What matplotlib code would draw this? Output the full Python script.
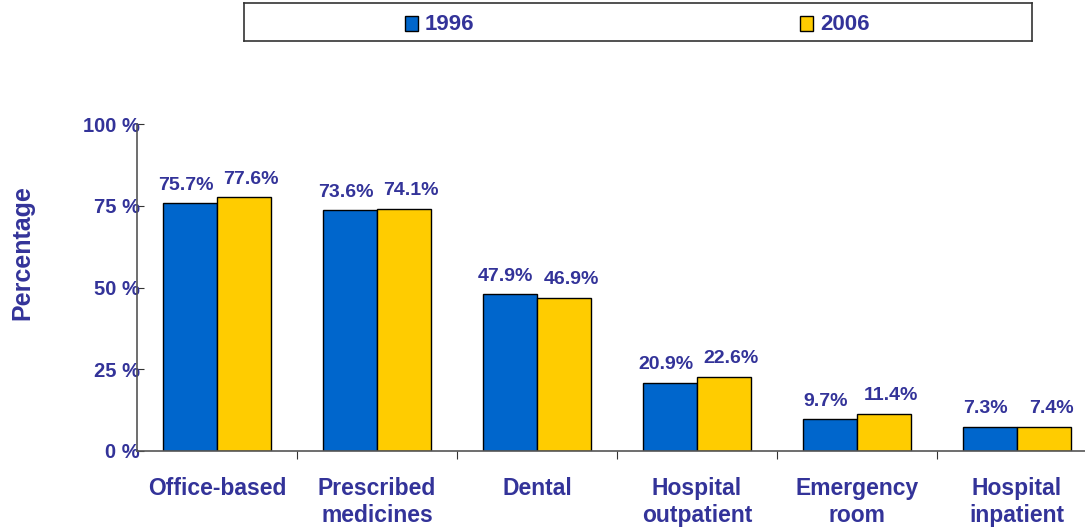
import matplotlib
matplotlib.use("Agg")
import matplotlib.pyplot as plt
import numpy as np
from matplotlib.patches import Rectangle

categories = ["Office-based", "Prescribed\nmedicines", "Dental", "Hospital\noutpatient", "Emergency\nroom", "Hospital\ninpatient"]
series_names = ["1996", "2006"]
values_1996 = [75.7, 73.6, 47.9, 20.9, 9.7, 7.3]
values_2006 = [77.6, 74.1, 46.9, 22.6, 11.4, 7.4]
yticks = [0, 25, 50, 75, 100]
ytick_labels = ["0 %", "25 %", "50 %", "75 %", "100 %"]

TXT = "#333399"
BLUE = "#0066CC"
YELLOW = "#FFCC00"
plt.rcParams['font.family'] = ['Liberation Sans', 'DejaVu Sans']

W, H = 1085, 527
fig = plt.figure(figsize=(W/100, H/100), dpi=100)
ax = fig.add_axes([137/W, (H-451)/H, 960/W, (451-124)/H])

x = np.arange(len(categories)) + 0.5
bw = 54/160
b1 = ax.bar(x - bw/2, values_1996, bw, color=BLUE, edgecolor="black", linewidth=1.0, label=series_names[0])
b2 = ax.bar(x + bw/2, values_2006, bw, color=YELLOW, edgecolor="black", linewidth=1.0, label=series_names[1])

for bars, vals, dx in ((b1, values_1996, -3), (b2, values_2006, 5)):
    for r, v in zip(bars, vals):
        ax.annotate(f"{v:.1f}%", (r.get_x() + r.get_width()/2, v), xytext=(dx, 7),
                    textcoords="offset points", ha="center", va="bottom",
                    fontsize=14, fontweight="bold", color=TXT)

ax.set_xlim(0, len(categories))
ax.set_ylim(0, 100)
ax.set_yticks(yticks)
ax.set_yticklabels(ytick_labels, fontsize=14.5, fontweight="bold", color=TXT)
ax.tick_params(axis="y", length=5, direction="in", pad=-2, colors="#333333", labelcolor=TXT)
ax.set_xticks(np.arange(1, len(categories)))
ax.set_xticklabels([])
ax.tick_params(axis="x", length=6, direction="out", colors="#333333")
for i, c in enumerate(categories):
    ax.text(x[i], -8, c, ha="center", va="top", fontsize=16.5, fontweight="bold", color=TXT,
            linespacing=1.2, transform=ax.transData)

for s in ("top", "right"):
    ax.spines[s].set_visible(False)
for s in ("left", "bottom"):
    ax.spines[s].set_color("#555555")
    ax.spines[s].set_linewidth(1.2)

fig.text(22/W, 1 - 253/H, "Percentage", rotation=90, ha="center", va="center",
         fontsize=18, fontweight="bold", color=TXT)

# legend box
lax = fig.add_axes([244/W, 1 - 41/H, (1032-244)/W, 38/H])
lax.set_xlim(244, 1032)
lax.set_ylim(41, 3)
lax.set_xticks([]); lax.set_yticks([])
for s in lax.spines.values():
    s.set_color("#333333"); s.set_linewidth(1.2)
for xs, col, name in ((405, BLUE, series_names[0]), (800, YELLOW, series_names[1])):
    lax.add_patch(Rectangle((xs, 16), 13, 15, facecolor=col, edgecolor="black", linewidth=1.0))
    lax.text(xs + 20, 24, name, ha="left", va="center", fontsize=16, fontweight="bold", color=TXT)

fig.savefig("out.png", dpi=100)
